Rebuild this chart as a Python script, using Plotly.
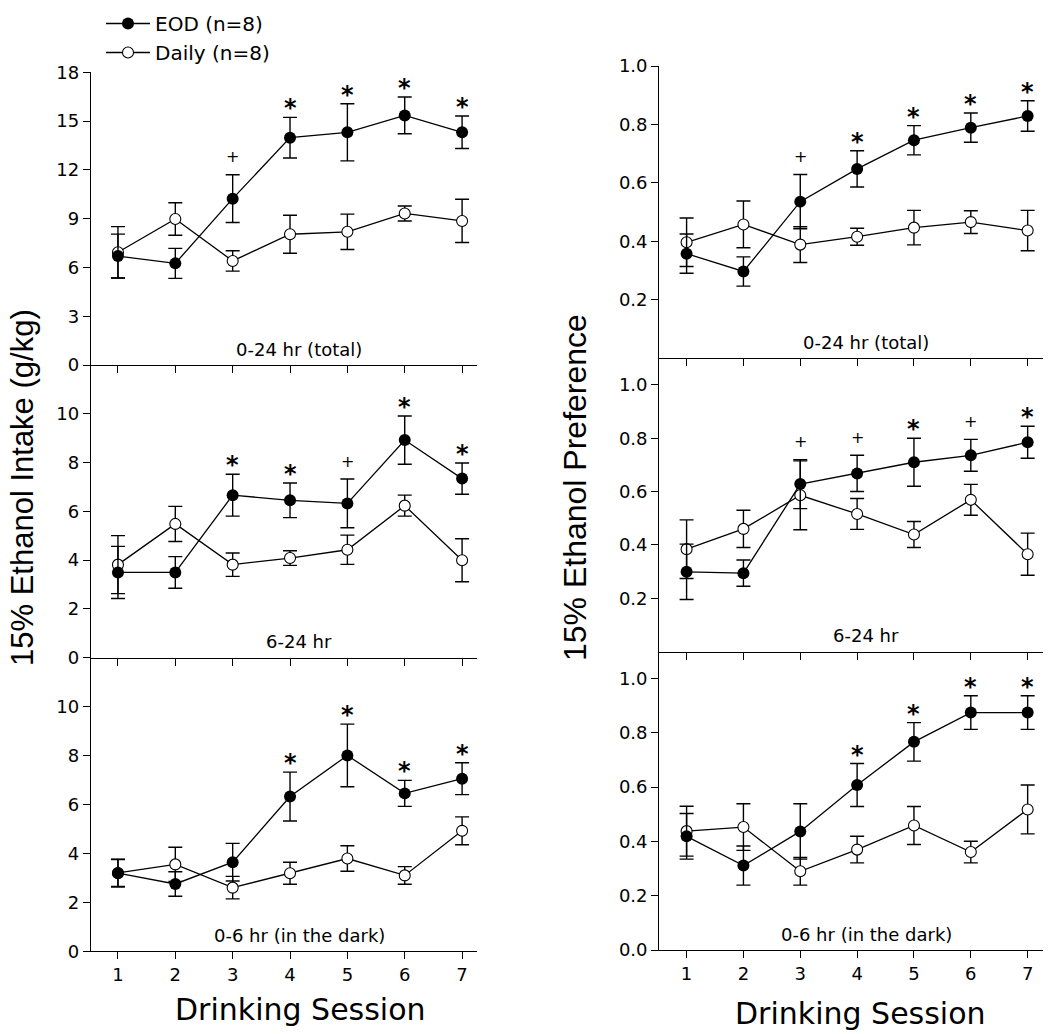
import plotly.graph_objects as go

sessions = [1, 2, 3, 4, 5, 6, 7]

# Intake (g/kg)
lt_eod = [6.70, 6.25, 10.23, 13.98, 14.31, 15.35, 14.31]
lt_eod_sem = [1.35, 0.92, 1.47, 1.25, 1.76, 1.13, 1.00]
lt_daily = [6.93, 8.98, 6.40, 8.04, 8.19, 9.32, 8.86]
lt_daily_sem = [1.58, 1.00, 0.63, 1.17, 1.09, 0.46, 1.33]
lt_sig = ["", "", "+", "*", "*", "*", "*"]

lm_eod = [3.49, 3.49, 6.66, 6.45, 6.32, 8.92, 7.34]
lm_eod_sem = [1.07, 0.65, 0.86, 0.71, 1.00, 0.99, 0.64]
lm_daily = [3.81, 5.48, 3.81, 4.08, 4.42, 6.23, 3.99]
lm_daily_sem = [1.19, 0.72, 0.48, 0.30, 0.60, 0.43, 0.88]
lm_sig = ["", "", "*", "*", "+", "*", "*"]

lb_eod = [3.19, 2.75, 3.64, 6.32, 8.00, 6.45, 7.05]
lb_eod_sem = [0.57, 0.50, 0.77, 1.00, 1.28, 0.53, 0.65]
lb_daily = [3.20, 3.55, 2.60, 3.19, 3.79, 3.10, 4.92]
lb_daily_sem = [0.55, 0.70, 0.46, 0.45, 0.52, 0.36, 0.57]
lb_sig = ["", "", "", "*", "*", "*", "*"]

# Preference
rt_eod = [0.358, 0.297, 0.536, 0.648, 0.746, 0.789, 0.829]
rt_eod_sem = [0.067, 0.050, 0.093, 0.062, 0.050, 0.050, 0.052]
rt_daily = [0.397, 0.458, 0.389, 0.416, 0.447, 0.466, 0.437]
rt_daily_sem = [0.083, 0.080, 0.061, 0.029, 0.059, 0.039, 0.069]
rt_sig = ["", "", "+", "*", "*", "*", "*"]

rm_eod = [0.299, 0.294, 0.628, 0.668, 0.710, 0.736, 0.785]
rm_eod_sem = [0.104, 0.049, 0.092, 0.068, 0.090, 0.060, 0.060]
rm_daily = [0.384, 0.460, 0.586, 0.516, 0.439, 0.569, 0.365]
rm_daily_sem = [0.110, 0.070, 0.129, 0.058, 0.049, 0.058, 0.079]
rm_sig = ["", "", "+", "+", "*", "+", "*"]

rb_eod = [0.419, 0.311, 0.437, 0.608, 0.767, 0.875, 0.875]
rb_eod_sem = [0.084, 0.072, 0.102, 0.079, 0.071, 0.062, 0.062]
rb_daily = [0.438, 0.453, 0.290, 0.370, 0.459, 0.361, 0.518]
rb_daily_sem = [0.092, 0.086, 0.051, 0.049, 0.070, 0.040, 0.090]
rb_sig = ["", "", "", "*", "*", "*", "*"]

panel_labels = ["0-24 hr (total)", "6-24 hr", "0-6 hr (in the dark)"]
intake_ticks = [[0, 3, 6, 9, 12, 15, 18], [0, 2, 4, 6, 8, 10], [0, 2, 4, 6, 8, 10]]
pref_ticks = [[0.2, 0.4, 0.6, 0.8, 1.0], [0.2, 0.4, 0.6, 0.8, 1.0], [0.0, 0.2, 0.4, 0.6, 0.8, 1.0]]

W, H = 1050, 1034
TICKFONT = dict(family="DejaVu Sans", size=18, color="black")


def py(px):
    return 1 - px / H


panels = [
    (lt_eod, lt_eod_sem, lt_daily, lt_daily_sem, lt_sig, (91, 477), (72.3, 365), [0, 18], intake_ticks[0], "d", panel_labels[0], False, [0.53, 7.26]),
    (lm_eod, lm_eod_sem, lm_daily, lm_daily_sem, lm_sig, (91, 477), (365, 657.5), [0, 12], intake_ticks[1], "d", panel_labels[1], False, [0.53, 7.26]),
    (lb_eod, lb_eod_sem, lb_daily, lb_daily_sem, lb_sig, (91, 477), (657.5, 951.3), [0, 12], intake_ticks[2], "d", panel_labels[2], True, [0.53, 7.26]),
    (rt_eod, rt_eod_sem, rt_daily, rt_daily_sem, rt_sig, (659.3, 1043), (66, 358.3), [0, 1.0], pref_ticks[0], ".1f", panel_labels[0], False, [0.52, 7.27]),
    (rm_eod, rm_eod_sem, rm_daily, rm_daily_sem, rm_sig, (659.3, 1043), (358.3, 651.5), [0, 1.1], pref_ticks[1], ".1f", panel_labels[1], False, [0.52, 7.27]),
    (rb_eod, rb_eod_sem, rb_daily, rb_daily_sem, rb_sig, (659.3, 1043), (651.5, 950), [0, 1.1], pref_ticks[2], ".1f", panel_labels[2], True, [0.52, 7.27]),
]

LEGFONT = dict(family="DejaVu Sans", size=20, color="black")
fig = go.Figure()
layout = dict(
    width=W, height=H, autosize=False,
    margin=dict(l=0, r=0, t=0, b=0, pad=0),
    paper_bgcolor="white", plot_bgcolor="white",
    showlegend=True,
    legend=dict(x=101 / W, y=py(4), xanchor="left", yanchor="top", font=LEGFONT,
                bgcolor="rgba(0,0,0,0)", itemwidth=44, itemclick=False),
    legend2=dict(x=101 / W, y=py(33), xanchor="left", yanchor="top", font=LEGFONT,
                 bgcolor="rgba(0,0,0,0)", itemwidth=44, itemclick=False),
)
annotations = []

for i, (eod, eod_sem, daily, daily_sem, sig, xd, yd, yr, ticks, fmt, label, xlab, xr) in enumerate(panels):
    n = i + 1
    xa = "x" if n == 1 else f"x{n}"
    ya = "y" if n == 1 else f"y{n}"
    xkey = "xaxis" if n == 1 else f"xaxis{n}"
    ykey = "yaxis" if n == 1 else f"yaxis{n}"
    axis_common = dict(showline=True, linecolor="black", linewidth=1.3,
                       ticks="outside", ticklen=7, tickwidth=1.3, tickcolor="black",
                       showgrid=False, zeroline=False, tickfont=TICKFONT, fixedrange=True,
                       automargin=False)
    layout[xkey] = dict(axis_common, domain=[xd[0] / W, xd[1] / W], range=xr,
                        tickvals=sessions, showticklabels=xlab, anchor=ya)
    layout[ykey] = dict(axis_common, domain=[py(yd[1]), py(yd[0])], range=yr,
                        tickvals=ticks, tickformat=fmt, anchor=xa)

    fig.add_trace(go.Scatter(
        x=sessions, y=daily, mode="lines+markers", name="Daily (n=8)",
        xaxis=xa, yaxis=ya, showlegend=(n == 1), legend="legend2",
        line=dict(color="black", width=1.3),
        marker=dict(symbol="circle", size=11, color="white", line=dict(color="black", width=1.1)),
        error_y=dict(type="data", array=daily_sem, visible=True, color="black", thickness=1.4, width=7),
    ))
    fig.add_trace(go.Scatter(
        x=sessions, y=eod, mode="lines+markers", name="EOD (n=8)",
        xaxis=xa, yaxis=ya, showlegend=(n == 1), legend="legend",
        line=dict(color="black", width=1.3),
        marker=dict(symbol="circle", size=12, color="black"),
        error_y=dict(type="data", array=eod_sem, visible=True, color="black", thickness=1.4, width=7),
    ))

    for s, m, e, g in zip(sessions, eod, eod_sem, sig):
        if not g:
            continue
        if g == "*":
            annotations.append(dict(x=s, y=m + e, xref=xa, yref=ya, text="<b>*</b>", showarrow=False,
                                    yanchor="middle", yshift=9,
                                    font=dict(family="DejaVu Sans", size=24, color="black")))
        else:
            annotations.append(dict(x=s, y=m + e, xref=xa, yref=ya, text="+", showarrow=False,
                                    yanchor="middle", yshift=18,
                                    font=dict(family="DejaVu Sans", size=16, color="black")))

    annotations.append(dict(x=0.54, y=0, xref=f"{xa} domain", yref=f"{ya} domain",
                            text=label, showarrow=False, xanchor="center", yanchor="middle",
                            yshift=16, font=dict(family="DejaVu Sans", size=18, color="black")))

annotations += [
    dict(x=22 / W, y=py(488), xref="paper", yref="paper", text="15% Ethanol Intake (g/kg)",
         textangle=-90, showarrow=False, xanchor="center", yanchor="middle",
         font=dict(family="Liberation Sans", size=31, color="black")),
    dict(x=575 / W, y=py(488), xref="paper", yref="paper", text="15% Ethanol Preference",
         textangle=-90, showarrow=False, xanchor="center", yanchor="middle",
         font=dict(family="Liberation Sans", size=32, color="black")),
    dict(x=300 / W, y=py(1009), xref="paper", yref="paper", text="Drinking Session",
         showarrow=False, xanchor="center", yanchor="middle",
         font=dict(family="DejaVu Sans", size=30, color="black")),
    dict(x=860 / W, y=py(1013), xref="paper", yref="paper", text="Drinking Session",
         showarrow=False, xanchor="center", yanchor="middle",
         font=dict(family="DejaVu Sans", size=30, color="black")),
]
layout["annotations"] = annotations
fig.update_layout(**layout)
fig.write_html(
    "out.html",
    config={"responsive": False, "displayModeBar": False},
    post_script="document.body.style.margin='0';document.body.style.overflow='hidden';",
)
